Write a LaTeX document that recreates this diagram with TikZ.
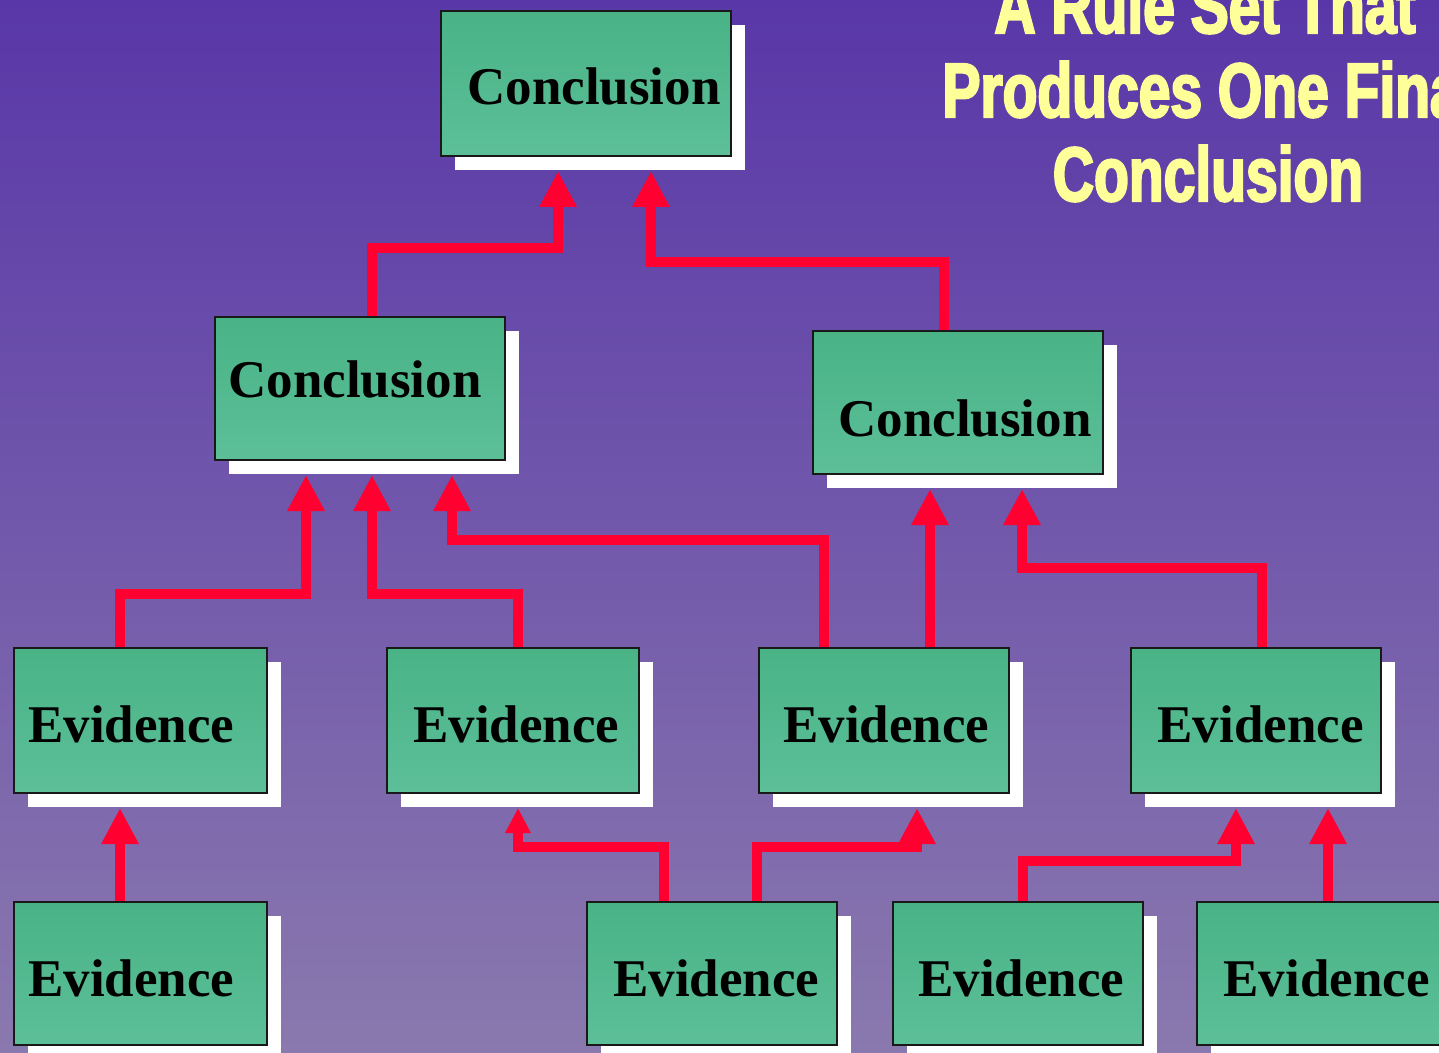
\documentclass[tikz,border=0pt]{standalone}
\usepackage{fontspec}
\setmainfont{Liberation Serif}
\newfontfamily\titlefont{Liberation Sans}[BoldFeatures={FakeStretch=0.74,FakeBold=2.8}]
\usetikzlibrary{arrows.meta,shadows,calc}

\definecolor{bgtop}{HTML}{5937A8}
\definecolor{bgbot}{HTML}{8A79AE}
\definecolor{boxtop}{HTML}{49B386}
\definecolor{boxbot}{HTML}{5CBF98}
\definecolor{wirered}{HTML}{FF0030}
\definecolor{titleyellow}{HTML}{FFFF99}

\tikzset{
  panel/.style={anchor=north west, inner sep=0pt, draw=black!90, line width=1pt,
    top color=boxtop, bottom color=boxbot,
    general shadow={fill=white, shadow xshift=7pt, shadow yshift=-7pt}},
  boxtext/.style={anchor=base west, inner sep=0pt,
    font=\fontsize{26.5pt}{30pt}\selectfont\bfseries},
  wire/.style={draw=wirered, line width=5pt, line join=miter,
    -{Triangle[width=17.5pt,length=18pt]}},
  thinwire/.style={wire, -{Triangle[width=12pt,length=12.5pt]}},
  heading/.style={anchor=base, inner sep=0pt, text=titleyellow,
    font={\titlefont\fontsize{38.5pt}{42pt}\selectfont\bfseries}}
}

\begin{document}
\begin{tikzpicture}[x=0.5pt,y=-0.5pt]
  \useasboundingbox (0,0) rectangle (1439,1053);
  \clip (0,0) rectangle (1439,1053);

  % background
  \shade[top color=bgtop, bottom color=bgbot] (0,0) rectangle (1439,1053);

  % heading
  \node[heading] (h1) at (1205,33)  {A Rule Set That};
  \node[heading] (h2) at (1210,117) {Produces One Final};
  \node[heading] (h3) at (1208,201) {Conclusion};

  % conclusions
  \node[panel, minimum width=145pt, minimum height=72.5pt] (c0) at (440,10) {};
  \node[panel, minimum width=145pt, minimum height=71.5pt] (c1) at (214,316) {};
  \node[panel, minimum width=145pt, minimum height=71.5pt] (c2) at (812,330) {};

  % evidence, upper row
  \node[panel, minimum width=126.5pt, minimum height=72.5pt] (e1) at (13,647) {};
  \node[panel, minimum width=126pt,   minimum height=72.5pt] (e2) at (386,647) {};
  \node[panel, minimum width=125pt,   minimum height=72.5pt] (e3) at (758,647) {};
  \node[panel, minimum width=125pt,   minimum height=72.5pt] (e4) at (1130,647) {};

  % evidence, lower row
  \node[panel, minimum width=126.5pt, minimum height=71.5pt] (b1) at (13,901) {};
  \node[panel, minimum width=125pt,   minimum height=71.5pt] (b2) at (586,901) {};
  \node[panel, minimum width=125pt,   minimum height=71.5pt] (b3) at (892,901) {};
  \node[panel, minimum width=125pt,   minimum height=71.5pt] (b4) at (1196,901) {};

  % box texts
  \node[boxtext] (t0) at (467,105) {Conclusion};
  \node[boxtext] (t1) at (228,397) {Conclusion};
  \node[boxtext] (t2) at (838,437) {Conclusion};
  \node[boxtext] (te1) at (28,742)   {Evidence};
  \node[boxtext] (te2) at (413,742)  {Evidence};
  \node[boxtext] (te3) at (783,742)  {Evidence};
  \node[boxtext] (te4) at (1157,742) {Evidence};
  \node[boxtext] (tb1) at (28,996)   {Evidence};
  \node[boxtext] (tb2) at (613,996)  {Evidence};
  \node[boxtext] (tb3) at (918,996)  {Evidence};
  \node[boxtext] (tb4) at (1223,996) {Evidence};

  % connectors into the top conclusion
  \draw[wire] ($(c1.north west)+(158,0)$) -- ++(0,-68) -| ($(c0.south west)+(118,14)$);
  \draw[wire] ($(c2.north west)+(132,0)$) -- ++(0,-68) -| ($(c0.south west)+(211,14)$);

  % connectors into the middle conclusions
  \draw[wire] ($(e1.north west)+(107,0)$) -- ++(0,-53)  -| ($(c1.south west)+(92,14)$);
  \draw[wire] ($(e2.north west)+(132,0)$) -- ++(0,-53)  -| ($(c1.south west)+(158,14)$);
  \draw[wire] ($(e3.north west)+(66,0)$)  -- ++(0,-107) -| ($(c1.south west)+(238,14)$);
  \draw[wire] ($(e3.north west)+(172,0)$) -- ($(c2.south west)+(118,14)$);
  \draw[wire] ($(e4.north west)+(132,0)$) -- ++(0,-79)  -| ($(c2.south west)+(210,14)$);

  % connectors into the upper evidence row
  \draw[wire] ($(b1.north west)+(107,0)$) -- ($(e1.south west)+(107,14)$);
  \draw[thinwire] ($(b2.north west)+(78,0)$) -- ++(0,-54) -| ($(e2.south west)+(132,14)$);
  \draw[wire] ($(b2.north west)+(171,0)$) -- ++(0,-54) -| ($(e3.south west)+(159,14)$);
  \draw[wire] ($(b3.north west)+(131,0)$) -- ++(0,-40) -| ($(e4.south west)+(106,14)$);
  \draw[wire] ($(b4.north west)+(132,0)$) -- ($(e4.south west)+(198,14)$);
\end{tikzpicture}
\end{document}
